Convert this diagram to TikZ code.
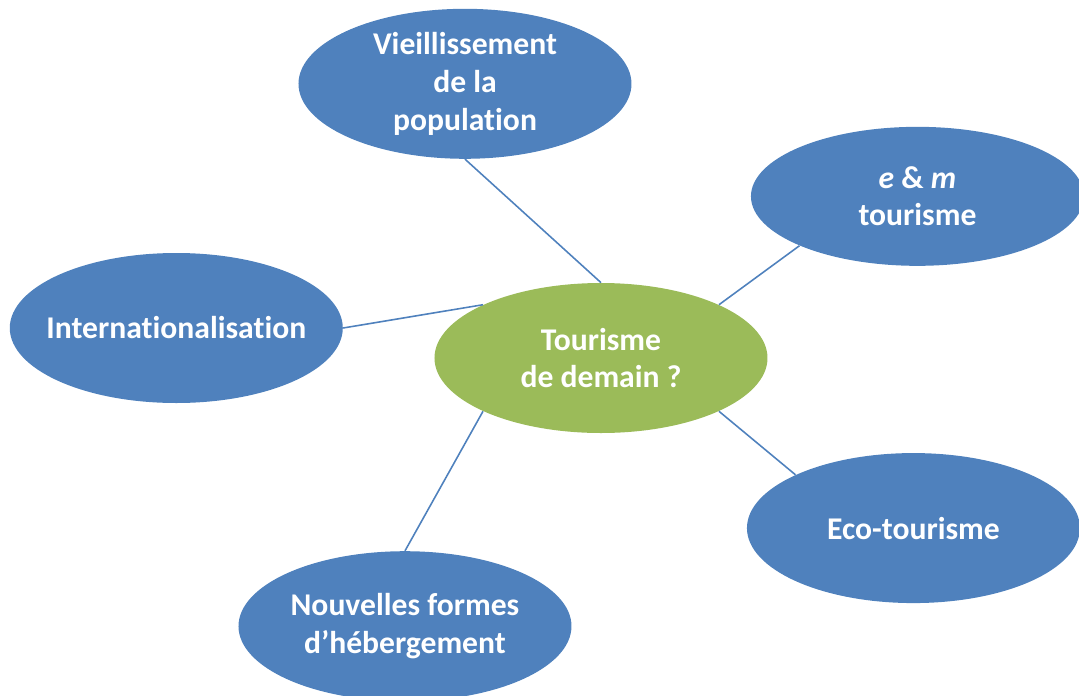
\documentclass[tikz,border=0pt]{standalone}
\usepackage{fontspec}
\setmainfont{Carlito}[Ligatures=NoCommon]
\usetikzlibrary{positioning, shapes.geometric}
\definecolor{colorTopic}{RGB}{79,129,189}
\definecolor{colorHub}{RGB}{155,187,89}
\definecolor{colorLink}{RGB}{79,129,189}

\begin{document}
\begin{tikzpicture}[
    topic/.style={ellipse, minimum width=6.66cm, minimum height=3cm, inner sep=0pt,
                fill=colorTopic, text=white, align=center,
                font=\fontsize{18}{21.4}\selectfont\bfseries},
    hub/.style={topic, fill=colorHub},
    link/.style={color=colorLink, line width=0.9pt}
]

% Canvas
\useasboundingbox (-12.02,-6.74) rectangle (9.56,7.16);
\clip (-12.02,-6.74) rectangle (9.56,7.16);

% Centre node
\node[hub] (Hub) at (0,0) {Tourisme\\de demain ?};

% Surrounding nodes
\node[topic, above=2.47cm of Hub, xshift=-2.72cm] (Ageing) {Vieillissement\\de la\\population};

\node[topic, inner xsep=-0.35cm, left=1.82cm of Hub, yshift=0.6cm] (Intl) {Internationalisation};

\node[topic, minimum height=2.78cm, above right=1.18cm and 1.61cm of Hub] (EMTour) {{\itshape e} \& {\itshape m}\\tourisme};

\node[topic, below right=1.27cm and 1.53cm of Hub] (EcoTour) {Eco-tourisme};

\node[topic, below=2.35cm of Hub, xshift=-3.92cm] (Lodging) {Nouvelles formes\\d’hébergement};

% Links
\draw[link] (Hub.north) -- (Ageing.south);
\draw[link] (Hub.north west) -- (Intl.east);
\draw[link] (Hub.north east) -- (EMTour.south west);
\draw[link] (Hub.south east) -- (EcoTour.north west);
\draw[link] (Hub.south west) -- (Lodging.north);

\end{tikzpicture}
\end{document}
